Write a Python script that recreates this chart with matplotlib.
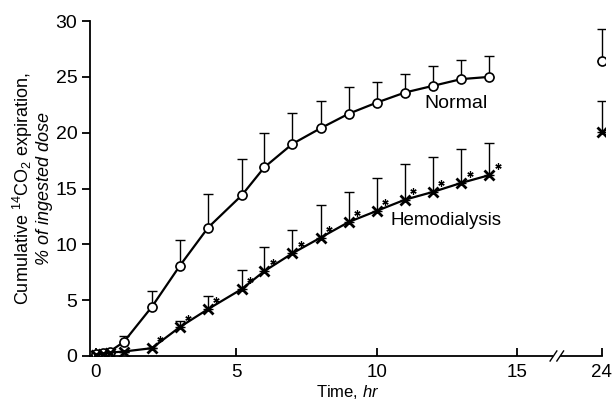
import matplotlib.pyplot as plt
from matplotlib.transforms import offset_copy

plt.rcParams['font.family'] = 'Liberation Sans'
plt.rcParams['mathtext.fontset'] = 'custom'
plt.rcParams['mathtext.rm'] = 'Liberation Sans'
plt.rcParams['mathtext.it'] = 'Liberation Sans:italic'

# time points (hr); the 24 hr value sits after the axis break
times = [0, 0.25, 0.5, 1, 2, 3, 4, 5.2, 6, 7, 8, 9, 10, 11, 12, 13, 14]
normal = [0.2, 0.3, 0.4, 1.25, 4.4, 8.1, 11.5, 14.4, 16.9, 19.0, 20.4, 21.7, 22.7, 23.6, 24.2, 24.8, 25.0]
normal_err = [0.2, 0.2, 0.2, 0.5, 1.4, 2.3, 3.0, 3.2, 3.1, 2.8, 2.4, 2.4, 1.8, 1.7, 1.8, 1.7, 1.9]
hemo = [0.1, 0.2, 0.3, 0.4, 0.7, 2.6, 4.2, 6.0, 7.6, 9.2, 10.6, 12.0, 13.0, 14.0, 14.7, 15.5, 16.2]
hemo_err = [0, 0, 0, 0, 0, 0.5, 1.2, 1.7, 2.2, 2.1, 2.9, 2.7, 2.9, 3.2, 3.1, 3.0, 2.9]
hemo_star = [False, False, False, False, True, True, True, True, True, True, True, True, True, True, True, True, True]

t24 = 24
normal24, normal24_err = 26.4, 2.9
hemo24, hemo24_err = 20.1, 2.7

xticks = [0, 5, 10, 15, 24]
BREAK_FROM = 16.4   # where the axis break is drawn
POS24 = 18.0        # where 24 hr is placed on the compressed axis


def xpos(t):
    return POS24 if t == t24 else t


fig = plt.figure(figsize=(6.12, 4.05), dpi=100)
ax = fig.add_axes([0.147, 0.121, 0.841, 0.827])

ekw = dict(fmt='none', ecolor='black', elinewidth=1.0, capsize=3.5, capthick=1.0)

# normal subjects
ax.errorbar(times, normal, yerr=[[0] * len(times), normal_err], **ekw)
ax.plot(times, normal, color='black', lw=1.6, marker='o', ms=6.5,
        mfc='white', mec='black', mew=1.2, zorder=3)
ax.errorbar([xpos(t24)], [normal24], yerr=[[0], [normal24_err]], **ekw)
ax.plot([xpos(t24)], [normal24], 'o', ms=6.5, mfc='white', mec='black', mew=1.2, zorder=3)

# hemodialysis patients
ax.errorbar(times, hemo, yerr=[[0] * len(times), hemo_err], **ekw)
ax.plot(times, hemo, color='black', lw=1.6, marker='x', ms=7, mew=2.0, zorder=3)
ax.errorbar([xpos(t24)], [hemo24], yerr=[[0], [hemo24_err]], **ekw)
ax.plot([xpos(t24)], [hemo24], 'x', color='black', ms=7, mew=2.0, zorder=3)

# significance asterisks, up and to the right of each point
star_tr = offset_copy(ax.transData, fig=fig, x=6, y=6.5, units='points')
st = [t for t, s in zip(times, hemo_star) if s]
sv = [v for v, s in zip(hemo, hemo_star) if s]
ax.plot(st, sv, linestyle='none', marker=(6, 2, 0), ms=4.5, mew=0.9,
        color='black', transform=star_tr, zorder=4)

ax.text(12.8, 22.6, 'Normal', fontsize=14, ha='center', va='center')
ax.text(12.45, 12.1, 'Hemodialysis', fontsize=13.5, ha='center', va='center')

ax.set_xlim(-0.2, 18.1)
ax.set_ylim(0, 30)
ax.set_xticks([xpos(t) for t in xticks])
ax.set_xticklabels([str(t) for t in xticks])
ax.set_yticks([0, 5, 10, 15, 20, 25, 30])

for side in ['top', 'right']:
    ax.spines[side].set_visible(False)
for side in ['left', 'bottom']:
    ax.spines[side].set_linewidth(1.3)
ax.spines['bottom'].set_bounds(-0.2, POS24)
ax.tick_params(axis='y', direction='out', length=6, width=1.3, labelsize=14, pad=3)
ax.tick_params(axis='x', direction='in', length=6, width=1.3, labelsize=13.5, pad=6)

# axis break marks
ax.plot([BREAK_FROM - 0.12, BREAK_FROM + 0.12], [0, 0], color='white', lw=3,
        clip_on=False, zorder=4, solid_capstyle='butt')
for dx in (-0.12, 0.12):
    ax.plot([BREAK_FROM + dx - 0.12, BREAK_FROM + dx + 0.12], [-0.45, 0.45],
            color='black', lw=1.0, clip_on=False, zorder=5)

ax.set_xlabel(r'Time, $\it{hr}$', fontsize=12, labelpad=1)

fig.text(0.037, 0.535, r'Cumulative $^{14}$CO$_2$ expiration,', rotation=90,
         fontsize=13, ha='center', va='center')
fig.text(0.072, 0.535, '% of ingested dose', rotation=90, style='italic',
         fontsize=13, ha='center', va='center')

fig.savefig('out.png', dpi=100)
